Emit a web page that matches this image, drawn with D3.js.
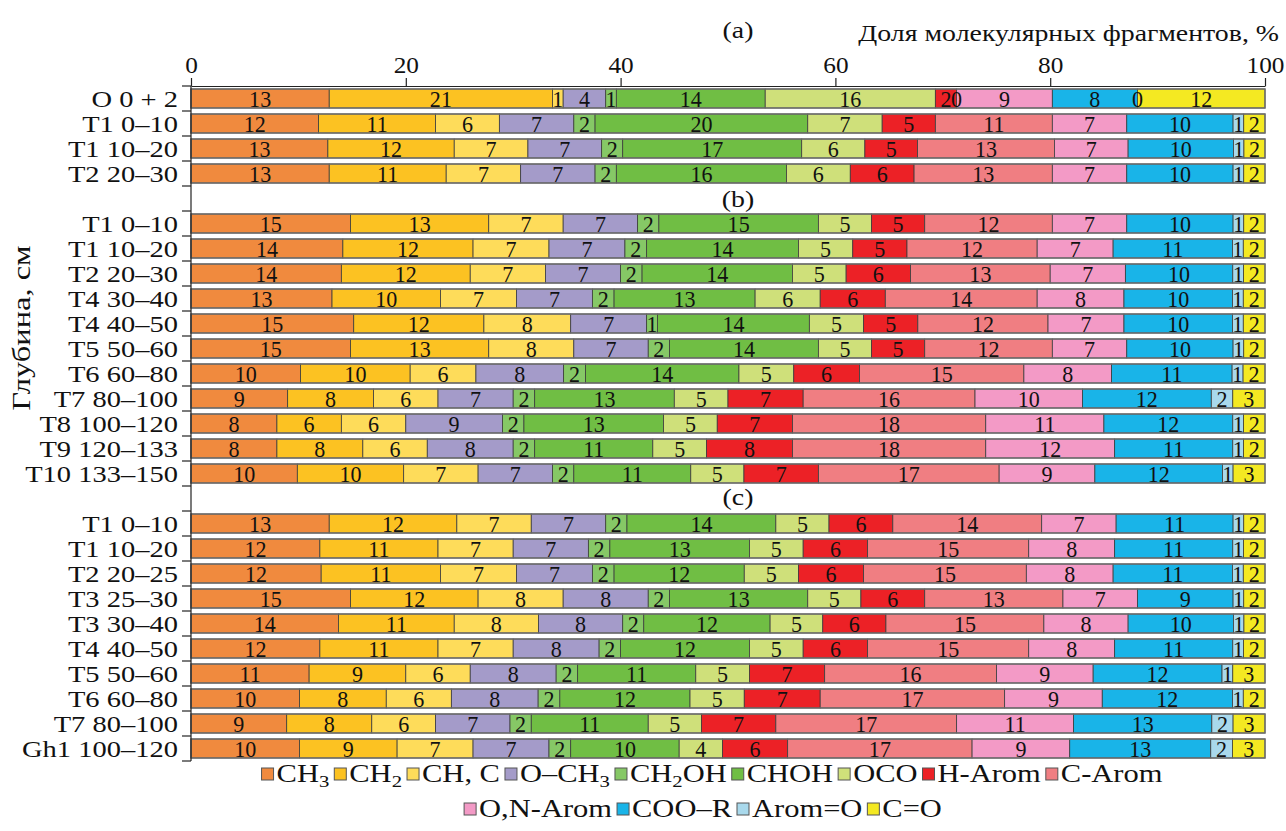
<!DOCTYPE html>
<html>
<head>
<meta charset="utf-8">
<script src="https://cdn.jsdelivr.net/npm/d3@7.9.0/dist/d3.min.js"></script>
<style>
  body { margin: 0; background: #fff; }
  svg text { font-family: "Liberation Serif", "Times New Roman", serif; fill: #111; }
</style>
</head>
<body>
<svg id="chart" width="1286" height="831"></svg>
<script>
// fragment types, in stacking order
const series = ['CH_3', 'CH_2', 'CH, C', 'O–CH_3', 'CH_2OH', 'CHOH', 'OCO',
  'H-Arom', 'C-Arom', 'O,N-Arom', 'COO–R', 'Arom=O', 'C=O'];
const colors = ['#f08a3e', '#fcc222', '#fedc5a', '#a49bc9', '#86c866', '#70be44', '#cfe07a',
  '#ec2126', '#f07e82', '#f39ac6', '#19b4e8', '#a9d9ec', '#f4e922'];

// (a)
const rowsA = ['O 0 + 2', 'T1 0–10', 'T1 10–20', 'T2 20–30'];
const valuesA = [
  [13, 21, 1, 4, 1, 14, 16, 2, 0, 9, 8, 0, 12],
  [12, 11, 6, 7, 2, 20, 7, 5, 11, 7, 10, 1, 2],
  [13, 12, 7, 7, 2, 17, 6, 5, 13, 7, 10, 1, 2],
  [13, 11, 7, 7, 2, 16, 6, 6, 13, 7, 10, 1, 2]
];

// (b)
const rowsB = ['T1 0–10', 'T1 10–20', 'T2 20–30', 'T4 30–40', 'T4 40–50', 'T5 50–60',
  'T6 60–80', 'T7 80–100', 'T8 100–120', 'T9 120–133', 'T10 133–150'];
const valuesB = [
  [15, 13, 7, 7, 2, 15, 5, 5, 12, 7, 10, 1, 2],
  [14, 12, 7, 7, 2, 14, 5, 5, 12, 7, 11, 1, 2],
  [14, 12, 7, 7, 2, 14, 5, 6, 13, 7, 10, 1, 2],
  [13, 10, 7, 7, 2, 13, 6, 6, 14, 8, 10, 1, 2],
  [15, 12, 8, 7, 1, 14, 5, 5, 12, 7, 10, 1, 2],
  [15, 13, 8, 7, 2, 14, 5, 5, 12, 7, 10, 1, 2],
  [10, 10, 6, 8, 2, 14, 5, 6, 15, 8, 11, 1, 2],
  [9, 8, 6, 7, 2, 13, 5, 7, 16, 10, 12, 2, 3],
  [8, 6, 6, 9, 2, 13, 5, 7, 18, 11, 12, 1, 2],
  [8, 8, 6, 8, 2, 11, 5, 8, 18, 12, 11, 1, 2],
  [10, 10, 7, 7, 2, 11, 5, 7, 17, 9, 12, 1, 3]
];

// (c)
const rowsC = ['T1 0–10', 'T1 10–20', 'T2 20–25', 'T3 25–30', 'T3 30–40', 'T4 40–50',
  'T5 50–60', 'T6 60–80', 'T7 80–100', 'Gh1 100–120'];
const valuesC = [
  [13, 12, 7, 7, 2, 14, 5, 6, 14, 7, 11, 1, 2],
  [12, 11, 7, 7, 2, 13, 5, 6, 15, 8, 11, 1, 2],
  [12, 11, 7, 7, 2, 12, 5, 6, 15, 8, 11, 1, 2],
  [15, 12, 8, 8, 2, 13, 5, 6, 13, 7, 9, 1, 2],
  [14, 11, 8, 8, 2, 12, 5, 6, 15, 8, 10, 1, 2],
  [12, 11, 7, 8, 2, 12, 5, 6, 15, 8, 11, 1, 2],
  [11, 9, 6, 8, 2, 11, 5, 7, 16, 9, 12, 1, 3],
  [10, 8, 6, 8, 2, 12, 5, 7, 17, 9, 12, 1, 2],
  [9, 8, 6, 7, 2, 11, 5, 7, 17, 11, 13, 2, 3],
  [10, 9, 7, 7, 2, 10, 4, 6, 17, 9, 13, 2, 3]
];

const xTicks = [0, 20, 40, 60, 80, 100];
const groupTitles = ['(a)', '(b)', '(c)'];

const svg = d3.select('#chart');

// the typeset text in the figure is a bit wider than Liberation Serif
const stretch = 1.16;

// build rows + empty slots between groups
let rows = [];
rowsA.forEach((r, i) => rows.push({ key: 'a' + i, label: r, values: valuesA[i] }));
rowsB.forEach((r, i) => rows.push({ key: 'b' + i, label: r, values: valuesB[i] }));
rowsC.forEach((r, i) => rows.push({ key: 'c' + i, label: r, values: valuesC[i] }));

const slots = [...rowsA.map((r, i) => 'a' + i), 'gapB',
  ...rowsB.map((r, i) => 'b' + i), 'gapC',
  ...rowsC.map((r, i) => 'c' + i)];

const y = d3.scaleBand().domain(slots).range([86, 761]).paddingInner(0.24).paddingOuter(0.12);
const x = d3.scaleLinear().domain([0, 1]).range([191, 1265]);
const xPct = d3.scaleLinear().domain([0, 100]).range([191, 1265]);

const stacked = d3.stack()
  .keys(d3.range(series.length))
  .value((d, k) => d.values[k])
  .offset(d3.stackOffsetExpand)(rows);

// bars
const layers = svg.append('g').selectAll('g')
  .data(stacked)
  .join('g')
  .attr('fill', (d, i) => colors[i]);

layers.selectAll('rect')
  .data(d => d)
  .join('rect')
  .attr('x', d => x(d[0]))
  .attr('y', d => y(d.data.key))
  .attr('width', d => x(d[1]) - x(d[0]))
  .attr('height', y.bandwidth())
  .attr('stroke', '#3c3c3c')
  .attr('stroke-width', 0.8);

// outline of each bar
svg.append('g').selectAll('rect')
  .data(rows)
  .join('rect')
  .attr('x', x(0))
  .attr('y', d => y(d.key))
  .attr('width', x(1) - x(0))
  .attr('height', y.bandwidth())
  .attr('fill', 'none')
  .attr('stroke', '#6e6e6e')
  .attr('stroke-width', 1.4);

// numbers inside the segments, drawn on top of all bars
const segLabels = stacked.flatMap(layer => layer.map(d => ({ d, k: layer.key })));
svg.append('g').selectAll('text')
  .data(segLabels)
  .join('text')
  .attr('transform', s => `translate(${(x(s.d[0]) + x(s.d[1])) / 2},${y(s.d.data.key) + y.bandwidth() / 2 + 8.5}) scale(0.92,1)`)
  .attr('text-anchor', 'middle')
  .attr('font-size', 24)
  .text(s => s.d.data.values[s.k]);

// top axis
const xAxis = svg.append('g')
  .attr('transform', 'translate(0,86)')
  .call(d3.axisTop(xPct).tickValues(xTicks).tickSize(8).tickSizeOuter(0).tickPadding(5));
xAxis.selectAll('text').attr('font-size', 23).attr('fill', '#111')
  .attr('transform', 'scale(1.1,1)');
xAxis.selectAll('line, path').attr('stroke', '#222').attr('stroke-width', 1.2);

// left axis: line and ticks at row boundaries
const step = y.step();
const yAxis = svg.append('g');
yAxis.append('line')
  .attr('x1', 191).attr('x2', 191)
  .attr('y1', y.range()[0]).attr('y2', y.range()[1])
  .attr('stroke', '#222').attr('stroke-width', 1.2);
yAxis.selectAll('.tk')
  .data(d3.range(slots.length + 1))
  .join('line')
  .attr('class', 'tk')
  .attr('x1', 182).attr('x2', 191)
  .attr('y1', i => y.range()[0] + i * step)
  .attr('y2', i => y.range()[0] + i * step)
  .attr('stroke', '#222').attr('stroke-width', 1.2);

yAxis.selectAll('.rl')
  .data(rows)
  .join('text')
  .attr('class', 'rl')
  .attr('transform', d => `translate(178,${y(d.key) + y.bandwidth() / 2 + 8}) scale(1.24,1)`)
  .attr('text-anchor', 'end')
  .attr('font-size', 23)
  .text(d => d.label);

// group titles
const titleY = [38, y('gapB') + y.bandwidth() / 2 + 8, y('gapC') + y.bandwidth() / 2 + 6];
groupTitles.forEach((t, i) => {
  svg.append('text')
    .attr('transform', `translate(738,${titleY[i]}) scale(${stretch},1)`)
    .attr('text-anchor', 'middle')
    .attr('font-size', 24)
    .text(t);
});

// axis titles
svg.append('text')
  .attr('transform', `translate(1279,41) scale(${stretch},1)`)
  .attr('text-anchor', 'end')
  .attr('font-size', 24)
  .text('Доля молекулярных фрагментов, %');
svg.append('text')
  .attr('transform', 'translate(30,328) rotate(-90) scale(1.3,1)')
  .attr('text-anchor', 'middle')
  .attr('font-size', 25)
  .text('Глубина, см');

// legend ("_" marks a subscript character)
function writeLabel(sel, name) {
  const parts = name.split('_');
  sel.append('tspan').text(parts[0]);
  parts.slice(1).forEach(p => {
    sel.append('tspan').attr('dy', 5).attr('font-size', 17).text(p[0]);
    if (p.length > 1) sel.append('tspan').attr('dy', -5).text(p.slice(1));
  });
}

const legendRows = [d3.range(0, 9), d3.range(9, 13)];
const legendY = [774, 809];
const legendStretch = 1.22;
legendRows.forEach((idxs, r) => {
  const g = svg.append('g');
  let cx = 0;
  idxs.forEach(k => {
    const item = g.append('g').attr('transform', `translate(${cx},0)`);
    item.append('rect')
      .attr('x', 0).attr('y', -6).attr('width', 12).attr('height', 12)
      .attr('fill', colors[k]).attr('stroke', '#555').attr('stroke-width', 1);
    const t = item.append('text')
      .attr('transform', `translate(15,8) scale(${legendStretch},1)`)
      .attr('font-size', 25);
    writeLabel(t, series[k]);
    cx += 15 + t.node().getComputedTextLength() * legendStretch + 5;
  });
  const w = cx - 5;
  const center = r === 0 ? 712 : 703;
  g.attr('transform', `translate(${center - w / 2},${legendY[r]})`);
});
</script>
</body>
</html>
